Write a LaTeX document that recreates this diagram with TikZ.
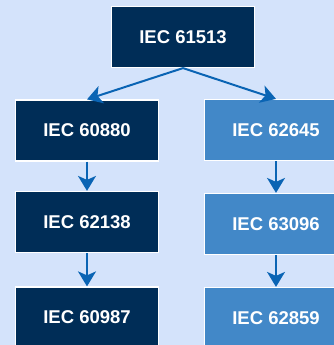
\documentclass[tikz,border=0pt]{standalone}
\usepackage{fontspec}
\setmainfont{Liberation Sans}
\usetikzlibrary{arrows.meta}
\definecolor{bg}{HTML}{D4E3FB}
\definecolor{navy}{HTML}{002D57}
\definecolor{sky}{HTML}{4288C8}
\definecolor{linkc}{HTML}{0A64B4}

\begin{document}
\begin{tikzpicture}[x=1pt,y=-1pt,
  stdbox/.style={draw=white, line width=1.2pt, minimum width=143pt,
    minimum height=61pt, inner sep=0pt, text=white,
    font=\fontsize{18.5}{20}\selectfont\bfseries},
  core/.style={stdbox, fill=navy},
  ext/.style={stdbox, fill=sky},
  flow/.style={draw=linkc, line width=2pt,
    -{Stealth[length=15pt,width=18pt,inset=4pt]}}]

  % canvas
  \useasboundingbox (0,0) rectangle (334,345);
  \clip (0,0) rectangle (334,345);
  \fill[bg] (0,0) rectangle (334,345);

  % root standard
  \node[core] (root) at (183,37) {IEC 61513};

  % left branch
  \node[core] (l1) at (87,130.5) {IEC 60880};
  \node[core] (l2) at (87,222)   {IEC 62138};
  \node[core] (l3) at (87,317.5) {IEC 60987};

  % right branch
  \node[ext] (r1) at (276,130) {IEC 62645};
  \node[ext] (r2) at (276,224) {IEC 63096};
  \node[ext] (r3) at (276,318) {IEC 62859};

  % connectors
  \draw[flow] (root.south) -- (l1.north);
  \draw[flow] (root.south) -- (r1.north);
  \draw[flow] (l1) -- (l2);
  \draw[flow] (l2) -- (l3);
  \draw[flow] (r1) -- (r2);
  \draw[flow] (r2) -- (r3);
\end{tikzpicture}
\end{document}
